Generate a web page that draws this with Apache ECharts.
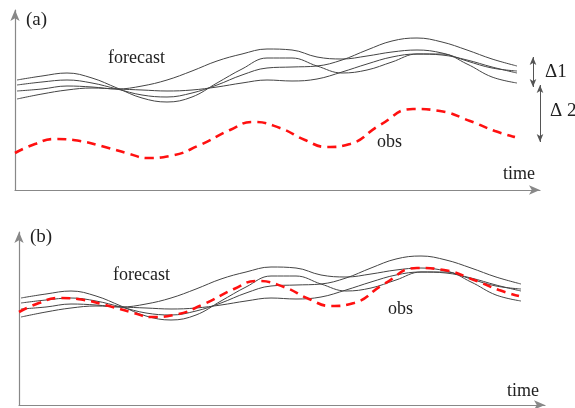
<!DOCTYPE html>
<html><head><meta charset="utf-8">
<script src="https://cdn.jsdelivr.net/npm/echarts@6/dist/echarts.min.js"></script>
<style>html,body{margin:0;padding:0;background:#fff}#c{width:575px;height:408px}</style>
</head><body><div id="c"></div><script>
// time positions (shared)
const timeF = [2,27,52,77,102,127,152,177,202,227,252,277,302,327,352,377,402,427,452,477,502];
const forecast1 = [99,101,104,103,101,104,110,119,129,136,141,140,133,131,134,138,140,137,129,122,119];
const forecast2 = [110,114,117,112,102,92,88,93,107,121,132,132,124,117,120,128,136,136,126,113,107];
const forecast3 = [105,108,110,107,101,95,93,97,105,115,122,123,124,130,140,149,152,148,140,131,124];
const forecast4 = [91,96,100,102,101,100,99,100,103,107,110,109,111,118,126,133,136,135,130,123,117];
const timeO = [0,20,40,65,90,115,132,155,185,215,238,265,290,312,335,365,398,425,455,480,500];
const obsA = [37,46,51,49,43,36,32,34,45,60,68,62,50,43,46,65,81,79,69,59,53];
const obsB = [96,105,110,108,102,95,91,93,104,119,127,121,109,102,105,124,140,138,128,118,112];

const pair = (xs, ys) => xs.map((x, i) => [x, ys[i]]);
const forecasts = [forecast1, forecast2, forecast3, forecast4];
const serif = 'Liberation Serif';

const axisLine = {show: true, symbol: ['none', 'arrow'], symbolSize: [7, 11], lineStyle: {color: '#888', width: 1.2}};
function xA(i, max) {
  return {type: 'value', gridIndex: i, min: 0, max: max, axisLine: axisLine,
    axisTick: {show: false}, axisLabel: {show: false}, splitLine: {show: false}};
}
function yA(i, min, max) {
  return {type: 'value', gridIndex: i, min: min, max: max, axisLine: axisLine,
    axisTick: {show: false}, axisLabel: {show: false}, splitLine: {show: false}};
}

const series = [];
[0, 1].forEach(g => {
  forecasts.forEach(f => series.push({
    type: 'line', xAxisIndex: g, yAxisIndex: g, data: pair(timeF, f), smooth: 0.4,
    showSymbol: false, lineStyle: {color: '#444', width: 1}, silent: true
  }));
});
series.push({
  type: 'line', xAxisIndex: 0, yAxisIndex: 0, data: pair(timeO, obsA), smooth: 0.5, showSymbol: false,
  lineStyle: {color: '#ff1010', width: 2.6, type: [9, 6]}, silent: true,
  markLine: {silent: true, symbol: ['arrow', 'arrow'], symbolSize: [5, 8], label: {show: false},
    lineStyle: {color: '#555', width: 1, type: 'solid'},
    data: [[{coord: [518, 133]}, {coord: [518, 103]}], [{coord: [525, 105]}, {coord: [525, 48]}]]}
});
series.push({
  type: 'line', xAxisIndex: 1, yAxisIndex: 1, data: pair(timeO, obsB), smooth: 0.5, showSymbol: false,
  lineStyle: {color: '#ff1010', width: 2.6, type: [9, 6]}, silent: true
});

const txt = (x, y, s, size) => ({type: 'text', left: x, top: y,
  style: {text: s, font: (size || 18) + 'px "' + serif + '"', fill: '#222'}});

const chart = echarts.init(document.getElementById('c'), null, {renderer: 'canvas'});
chart.setOption({
  animation: false,
  grid: [
    {left: 15, top: 10, width: 525, height: 180},
    {left: 19, top: 232, width: 526, height: 173}
  ],
  xAxis: [xA(0, 525), xA(1, 526)],
  yAxis: [yA(0, 0, 180), yA(1, 3, 176)],
  series: series,
  graphic: [
    txt(26, 11, '(a)', 19),
    txt(108, 49, 'forecast', 18),
    txt(377, 133, 'obs', 18),
    txt(503, 165, 'time', 18),
    txt(545, 63, 'Δ1', 19),
    txt(550, 102, 'Δ 2', 19),
    txt(30, 228, '(b)', 19),
    txt(113, 266, 'forecast', 18),
    txt(388, 300, 'obs', 18),
    txt(507, 382, 'time', 18)
  ]
});
</script></body></html>
